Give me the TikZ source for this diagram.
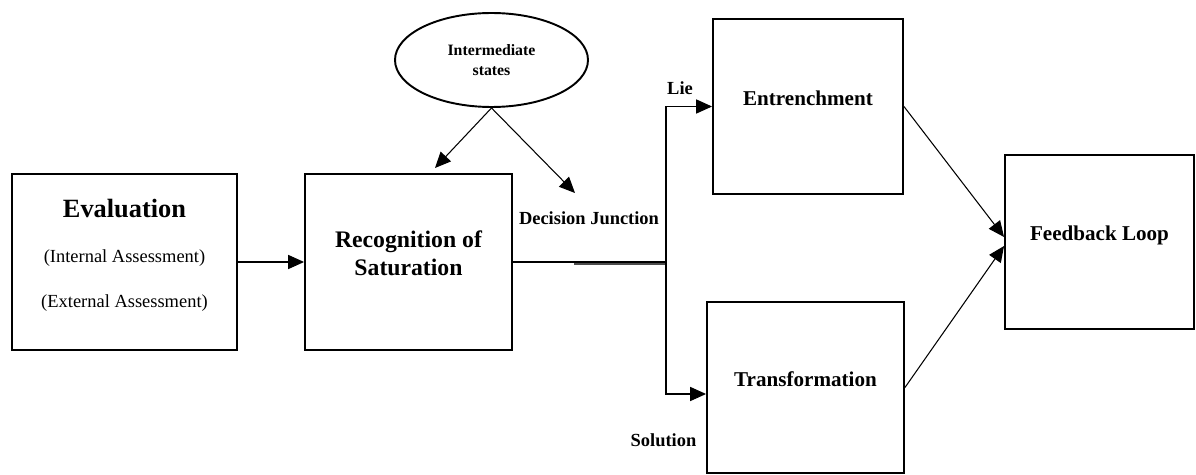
\documentclass[tikz,border=0pt]{standalone}
\usepackage{fontspec}
\setmainfont{Liberation Serif}
\usetikzlibrary{arrows.meta}
\usetikzlibrary{shapes.geometric}
\tikzset{
  link/.style={line width=0.6pt},
  tip/.style={link,-{Triangle[length=9pt,width=8pt]}},
  stage/.style={rectangle,draw,line width=1.1pt,align=center,text depth=10pt,
    font=\bfseries\fontsize{12}{14}\selectfont},
  tag/.style={inner sep=1pt,font=\bfseries\fontsize{10.5}{12}\selectfont}
}

\begin{document}
\begin{tikzpicture}
  \useasboundingbox (0,0) rectangle (23.92,-9.5);
  % left part
  \node (eval) at (2.49,-5.24) [stage,minimum width=4.5cm,minimum height=3.52cm,
    font=\fontsize{10.5}{14}\selectfont]
    {{\bfseries\fontsize{15}{17}\selectfont Evaluation}\\[12pt]
     (Internal Assessment)\\[11.5pt]
     (External Assessment)};
  \node (rec) at (8.17,-5.24) [stage,minimum width=4.14cm,minimum height=3.52cm,
    font=\bfseries\fontsize{13.5}{16}\selectfont] {Recognition of\\Saturation};
  \draw[tip] (eval) -- (rec);
  \node (mid) at (9.83,-1.2) [ellipse,draw,line width=1.1pt,minimum width=3.86cm,
    minimum height=1.88cm,align=center,font=\bfseries\fontsize{9}{11.3}\selectfont]
    {Intermediate\\states};
  \node (dj) at (11.78,-4.36) [tag] {Decision Junction};
  \coordinate (recin) at (8.7,-3.36);
  \coordinate (djin) at (11.5,-3.86);
  \draw[tip] (mid.south) -- (recin);
  \draw[tip] (mid.south) -- (djin);
  % branches
  \node (ent) at (16.16,-2.13) [stage,minimum width=3.8cm,minimum height=3.5cm] {Entrenchment};
  \node (trans) at (16.11,-7.75) [stage,minimum width=3.94cm,minimum height=3.42cm] {Transformation};
  \node (fb) at (21.99,-4.84) [stage,minimum width=3.78cm,minimum height=3.48cm] {Feedback Loop};
  \coordinate (junc) at (13.32,-5.24);
  \coordinate (jgray) at (11.48,-5.28);
  \coordinate (transin) at ([yshift=-0.13cm]trans.west);
  \draw[link] (rec.east) -- (junc);
  \draw[gray!60!black,line width=1.4pt] (jgray) -- (jgray -| junc);
  \draw[tip] (junc) |- (ent.west);
  \draw[tip] (junc) |- (transin);
  \node (lie) at (13.6,-1.76) [tag] {Lie};
  \node (sol) at (13.27,-8.8) [tag] {Solution};
  \coordinate (fbtop) at ([yshift=0.1cm]fb.west);
  \coordinate (fbbot) at ([yshift=-0.08cm]fb.west);
  \draw[tip] (ent.east) -- (fbtop);
  \draw[tip] (trans.east) -- (fbbot);
\end{tikzpicture}
\end{document}
